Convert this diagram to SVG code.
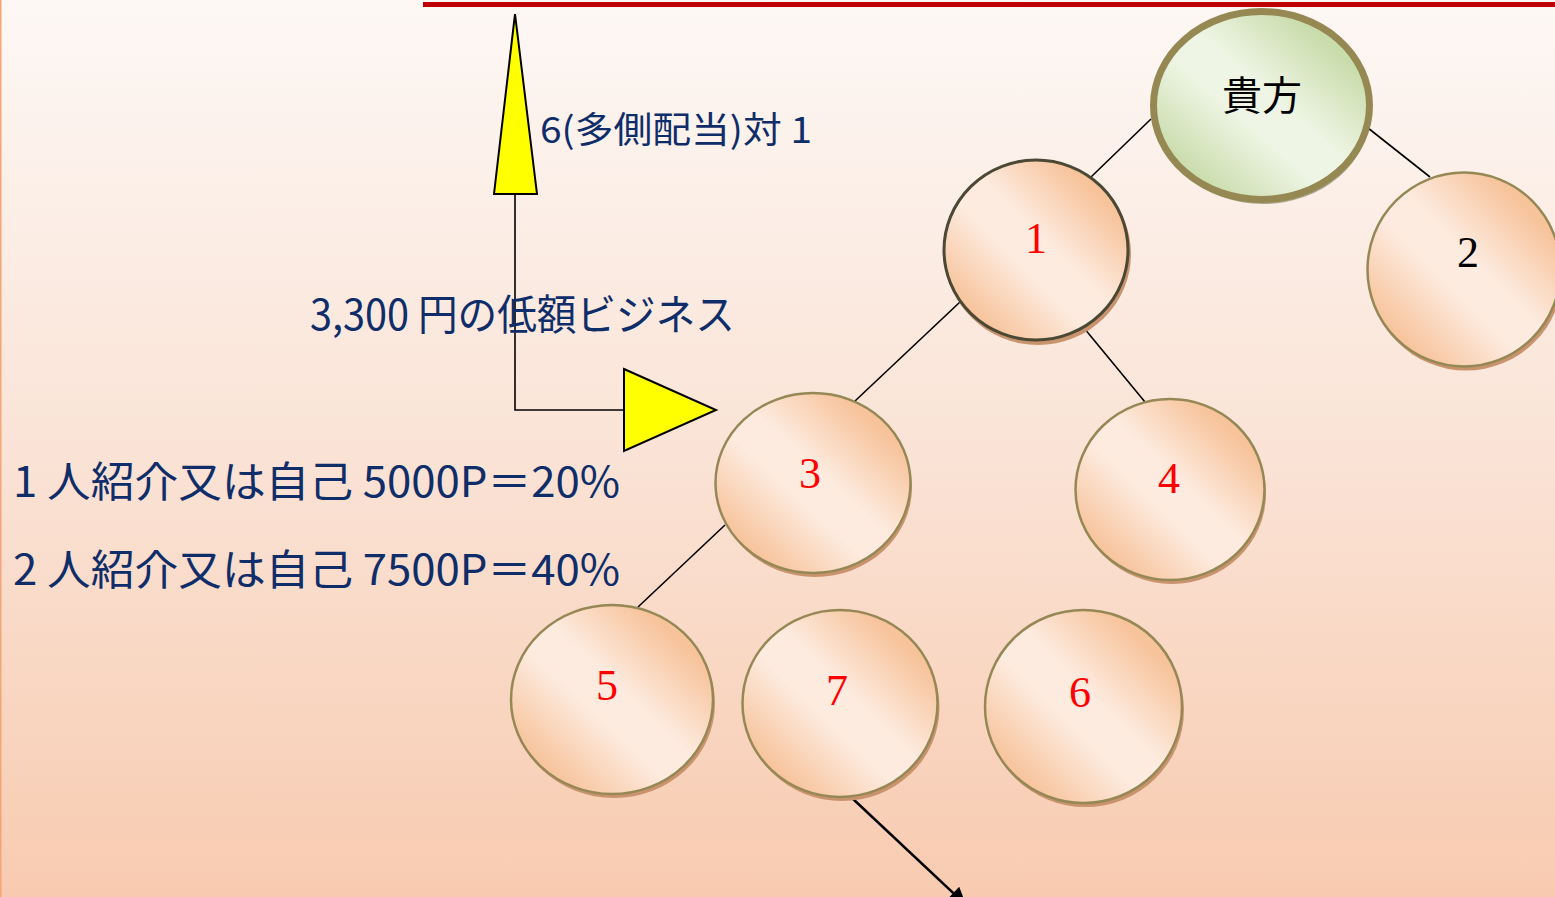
<svg xmlns="http://www.w3.org/2000/svg" width="1555" height="897" viewBox="0 0 1555 897">
  <defs>
    <linearGradient id="bg" x1="0" y1="0" x2="0" y2="1">
      <stop offset="0" stop-color="#fdf8f5"/>
      <stop offset="0.5" stop-color="#fae3d6"/>
      <stop offset="1" stop-color="#f8cbb0"/>
    </linearGradient>
    <linearGradient id="peach" x1="1" y1="0" x2="0" y2="1">
      <stop offset="0.18" stop-color="#f7c39b"/>
      <stop offset="0.45" stop-color="#fdebdf"/>
      <stop offset="0.58" stop-color="#fdebdf"/>
      <stop offset="0.85" stop-color="#f7c39b"/>
    </linearGradient>
    <linearGradient id="green" x1="1" y1="0" x2="0" y2="1">
      <stop offset="0.18" stop-color="#c9dcab"/>
      <stop offset="0.45" stop-color="#eef5e4"/>
      <stop offset="0.58" stop-color="#eef5e4"/>
      <stop offset="0.85" stop-color="#c9dcab"/>
    </linearGradient>
    <marker id="arrow" viewBox="0 0 10 10" refX="10" refY="5" markerWidth="8" markerHeight="7" markerUnits="strokeWidth" orient="auto">
      <path d="M0,0 L10,5 L0,10 Z" fill="#000"/>
    </marker>
    <style>
      .node { fill: url(#peach); stroke: #958856; stroke-width: 2.5; }
      .shadow { fill: #c9936d; }
      .num { font-family: "Liberation Serif", "DejaVu Serif", serif; font-size: 44px; text-anchor: middle; fill: #ff0000; }
      .txt { font-family: "Noto Sans CJK JP", "Noto Sans", sans-serif; fill: #0f2d69; }
      .conn { stroke: #000; stroke-width: 1.6; fill: none; }
      .yarrow { fill: #ffff00; stroke: #000; stroke-width: 2; stroke-linejoin: miter; }
    </style>
  </defs>

  <rect x="0" y="0" width="1555" height="897" fill="url(#bg)"/>
  <rect x="0" y="0" width="1.5" height="897" fill="#f4a677"/>
  <rect x="423" y="2" width="1132" height="5" fill="#c00000"/>

  <g id="connectors">
    <line class="conn" x1="1151" y1="119" x2="1091" y2="177"/>
    <line class="conn" x1="1368" y1="128" x2="1430" y2="177"/>
    <line class="conn" x1="960" y1="302" x2="855" y2="401"/>
    <line class="conn" x1="1084" y1="328" x2="1145" y2="402"/>
    <line class="conn" x1="725" y1="525" x2="638" y2="607"/>
    <line x1="852" y1="798" x2="966" y2="905" stroke="#000" stroke-width="2.5" marker-end="url(#arrow)"/>
    <polyline class="conn" points="515,194 515,410 624,410" stroke-width="2.5"/>
  </g>

  <g id="arrow-up">
    <polygon class="yarrow" points="515,14 537,194 494,194"/>
  </g>
  <g id="arrow-right">
    <polygon class="yarrow" points="624,369 716,410 624,451"/>
  </g>

  <g id="node-you">
    <ellipse cx="1263" cy="110" rx="108" ry="94" fill="#a8a888"/>
    <ellipse cx="1261.5" cy="105.5" rx="108" ry="94" fill="url(#green)" stroke="#958853" stroke-width="7"/>
    <text x="1262" y="110" font-family="Noto Sans CJK JP, sans-serif" font-size="40" text-anchor="middle" fill="#000">貴方</text>
  </g>

  <g id="node-1">
    <ellipse class="shadow" cx="1038" cy="254" rx="93" ry="91"/>
    <ellipse cx="1036" cy="250" rx="92" ry="90" fill="url(#peach)" stroke="#4b4834" stroke-width="3"/>
    <text class="num" x="1036" y="253">1</text>
  </g>

  <g id="node-2">
    <ellipse class="shadow" cx="1466" cy="273.5" rx="97" ry="97"/>
    <ellipse class="node" cx="1464" cy="269.5" rx="96.5" ry="97"/>
    <text class="num" x="1468" y="267" style="fill:#000">2</text>
  </g>

  <g id="node-3">
    <ellipse class="shadow" cx="815" cy="487" rx="97" ry="90"/>
    <ellipse class="node" cx="813" cy="483" rx="97.5" ry="90"/>
    <text class="num" x="810" y="488">3</text>
  </g>

  <g id="node-4">
    <ellipse class="shadow" cx="1172" cy="493.5" rx="94" ry="90.5"/>
    <ellipse class="node" cx="1170" cy="489.5" rx="94.5" ry="90.5"/>
    <text class="num" x="1169" y="493">4</text>
  </g>

  <g id="node-5">
    <ellipse class="shadow" cx="614" cy="703.5" rx="101" ry="94.5"/>
    <ellipse class="node" cx="612" cy="699.5" rx="101" ry="94.5"/>
    <text class="num" x="607" y="700">5</text>
  </g>

  <g id="node-7">
    <ellipse class="shadow" cx="842" cy="707.5" rx="97.5" ry="93.5"/>
    <ellipse class="node" cx="840" cy="703.5" rx="97.5" ry="93.5"/>
    <text class="num" x="837" y="705">7</text>
  </g>

  <g id="node-6">
    <ellipse class="shadow" cx="1085.5" cy="710.5" rx="98.5" ry="96.5"/>
    <ellipse class="node" cx="1083.5" cy="706.5" rx="98.5" ry="96.5"/>
    <text class="num" x="1080" y="707">6</text>
  </g>

  <g id="labels">
    <text class="txt" x="540" y="143" font-size="36" textLength="272" lengthAdjust="spacingAndGlyphs">6(多側配当)対 1</text>
    <text class="txt" x="310" y="330" font-size="42" textLength="425" lengthAdjust="spacingAndGlyphs">3,300 円の低額ビジネス</text>
    <text class="txt" x="13" y="497" font-size="42" textLength="607" lengthAdjust="spacingAndGlyphs">1 人紹介又は自己 5000P＝20%</text>
    <text class="txt" x="13" y="585" font-size="42" textLength="607" lengthAdjust="spacingAndGlyphs">2 人紹介又は自己 7500P＝40%</text>
  </g>
</svg>
